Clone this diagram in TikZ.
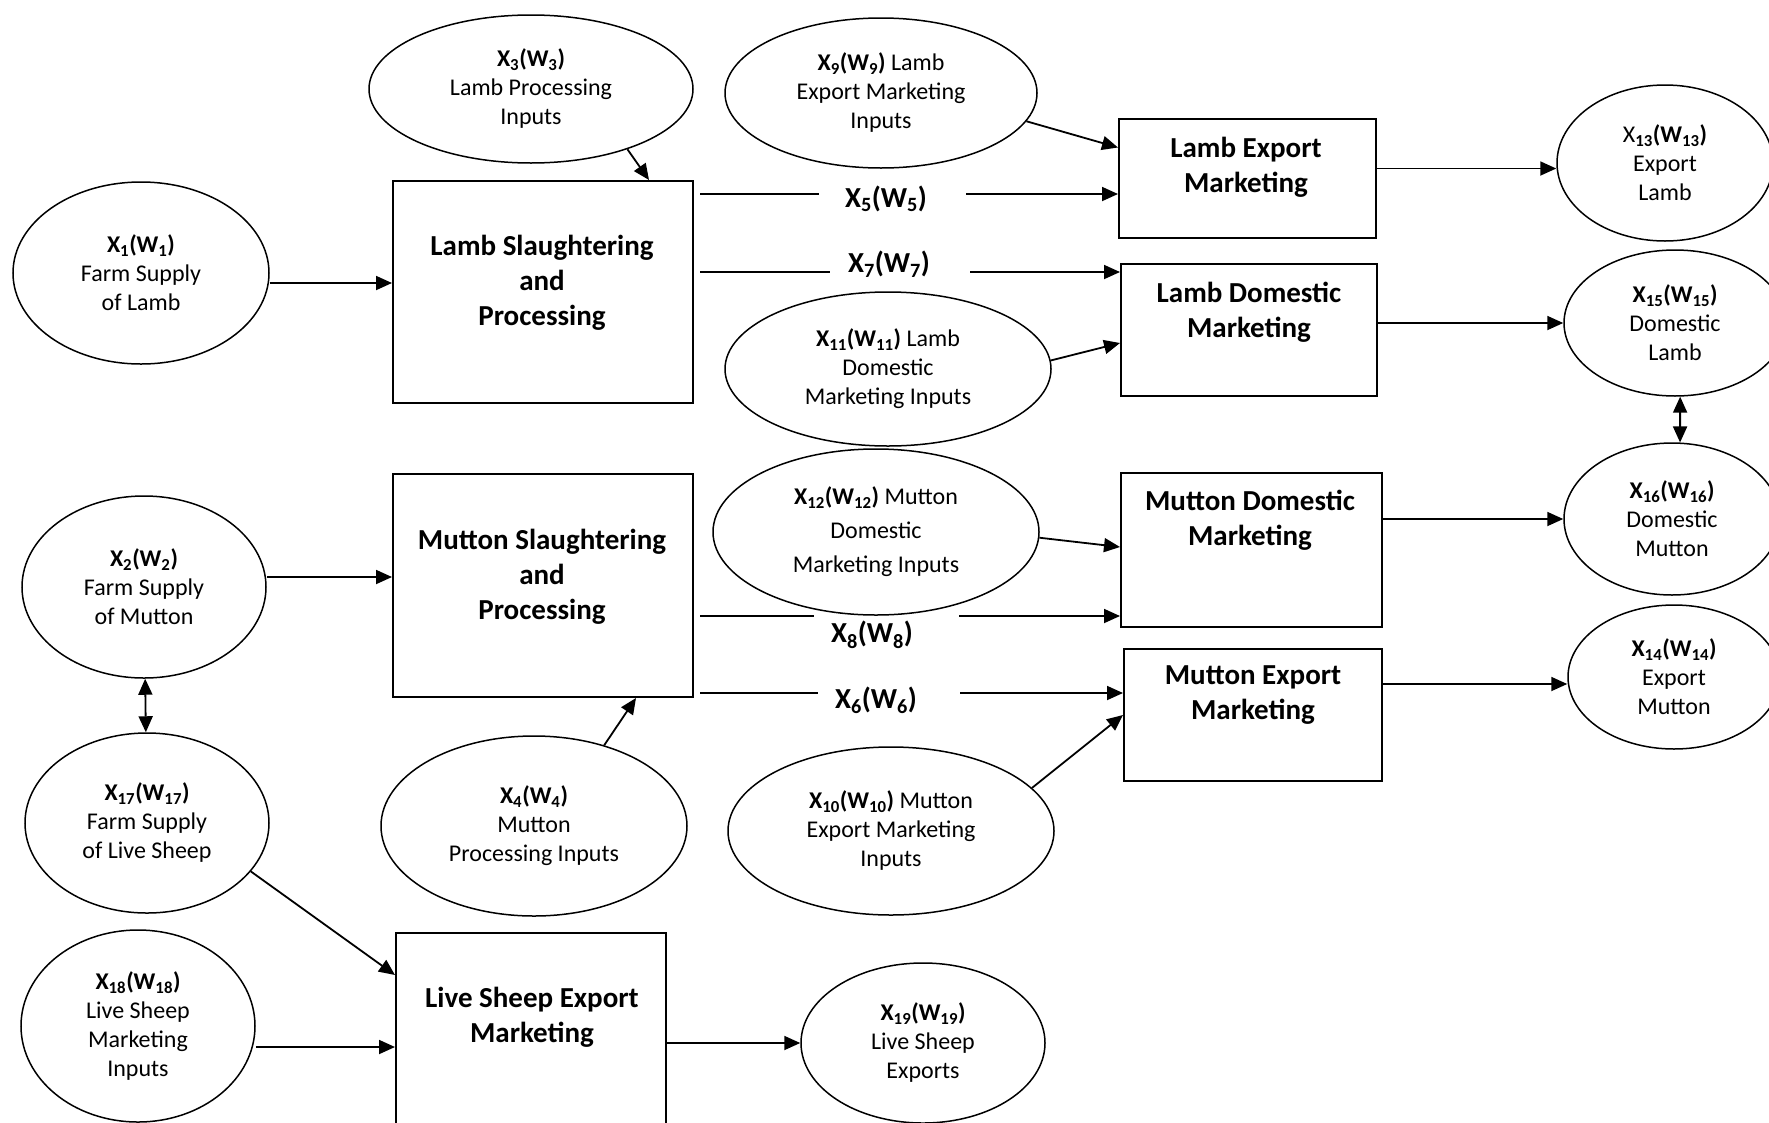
\documentclass[tikz,border=0pt]{standalone}
\usepackage{fontspec}
\setmainfont{Carlito}
\usetikzlibrary{positioning,shapes.geometric,arrows.meta,calc}
\newcommand{\xw}[1]{\textbf{X\textsubscript{#1}(W\textsubscript{#1})}}

\begin{document}
\begin{tikzpicture}[x=1pt, y=-1pt,
    quantity/.style={draw, ellipse, line width=1.5pt, inner sep=0pt, align=center, font=\fontsize{24}{29}\selectfont},
    sector/.style={draw, rectangle, line width=2pt, inner sep=0pt},
    sectortext/.style={align=center, font=\fontsize{29}{35}\selectfont\bfseries},
    flowlabel/.style={inner xsep=30pt, inner ysep=0pt, font=\fontsize{29}{35}\selectfont\bfseries},
    flowline/.style={line width=1.8pt},
    arr/.style={flowline, -{Triangle[length=16pt,width=14pt]}},
    twoway/.style={flowline, {Triangle[length=16pt,width=14pt]}-{Triangle[length=16pt,width=14pt]}}
]
\path[use as bounding box, clip] (0,0) rectangle (1769,1122);
\fill[white] (0,0) rectangle (1769,1122);

% lamb side
\node[quantity, minimum width=256, minimum height=182] (x1) at (141,273) {\xw{1}\\Farm Supply\\of Lamb};
\node[quantity, minimum width=324, minimum height=148] (x3) at (531,89) {\xw{3}\\Lamb Processing\\Inputs};
\node[quantity, minimum width=312, minimum height=150] (x9) at (881,93) {\xw{9} Lamb\\Export Marketing\\Inputs};
\node[quantity, minimum width=326, minimum height=154] (x11) at (888,369) {\xw{11} Lamb\\Domestic\\Marketing Inputs};
\node[quantity, minimum width=216, minimum height=156] (x13) at (1665,163) {X\textbf{\textsubscript{13}(W\textsubscript{13})}\\Export\\Lamb};
\node[quantity, minimum width=222, minimum height=146] (x15) at (1675,323) {\xw{15}\\Domestic\\Lamb};

\node[sector, minimum width=300, minimum height=222] (lsp) at (543,292) {};
\node[sectortext] (lsp-t) at (542,283) {Lamb Slaughtering\\and\\Processing};
\node[sector, minimum width=257, minimum height=119] (lex) at (1247.5,178.5) {};
\node[sectortext] (lex-t) at (1246,167) {Lamb Export\\Marketing};
\node[sector, minimum width=256, minimum height=132] (ldm) at (1249,330) {};
\node[sectortext] (ldm-t) at (1249,312) {Lamb Domestic\\Marketing};

% mutton side
\node[quantity, minimum width=244, minimum height=182] (x2) at (144,587) {\xw{2}\\Farm Supply\\of Mutton};
\node[quantity, minimum width=306, minimum height=180] (x4) at (534,826) {\xw{4}\\Mutton\\Processing Inputs};
\node[quantity, minimum width=326, minimum height=166] (x12) at (876,532) {\xw{12} Mutton\\[5pt]Domestic\\[5pt]Marketing Inputs};
\node[quantity, minimum width=326, minimum height=168] (x10) at (891,831) {\xw{10} Mutton\\Export Marketing\\Inputs};
\node[quantity, minimum width=216, minimum height=152] (x16) at (1672,519) {\xw{16}\\Domestic\\Mutton};
\node[quantity, minimum width=212, minimum height=144] (x14) at (1674,677) {\xw{14}\\Export\\Mutton};

\node[sector, minimum width=300, minimum height=223] (msp) at (543,585.5) {};
\node[sectortext] (msp-t) at (542,577) {Mutton Slaughtering\\and\\Processing};
\node[sector, minimum width=261, minimum height=154] (mdm) at (1251.5,550) {};
\node[sectortext] (mdm-t) at (1250,520) {Mutton Domestic\\Marketing};
\node[sector, minimum width=258, minimum height=132] (mex) at (1253,715) {};
\node[sectortext] (mex-t) at (1253,695) {Mutton Export\\Marketing};

% live sheep
\node[quantity, minimum width=244, minimum height=180] (x17) at (147,823) {\xw{17}\\Farm Supply\\of Live Sheep};
\node[quantity, minimum width=234, minimum height=192] (x18) at (138,1026) {\xw{18}\\Live Sheep\\Marketing\\Inputs};
\node[quantity, minimum width=244, minimum height=160] (x19) at (923,1043) {\xw{19}\\Live Sheep\\Exports};
\node[sector, minimum width=270, minimum height=228] (lse) at (531,1047) {};
\node[sectortext] (lse-t) at (532,1017) {Live Sheep Export\\Marketing};

% flow labels
\node[flowlabel] (x5) at (886,199) {X\textsubscript{5}(W\textsubscript{5})};
\node[flowlabel] (x7) at (889,264) {X\textsubscript{7}(W\textsubscript{7})};
\node[flowlabel] (x8) at (872,635) {X\textsubscript{8}(W\textsubscript{8})};
\node[flowlabel] (x6) at (876,700) {X\textsubscript{6}(W\textsubscript{6})};

% connectors
\draw[arr] ($(x1.east)+(0,10)$) -- ($(x1.east -| lsp.west)+(0,10)$);
\draw[arr] (x3.-32) -- ($(lsp.north)+(106,0)$);
\draw[arr] (x9.-11) -- ($(lex.west)+(0,-31)$);
\draw[arr] (x11.3) -- ($(ldm.west)+(0,13)$);
\draw[arr] ($(lex.east)+(0,-10)$) -- ($(lex.east -| x13.west)+(0,-10)$);
\draw[arr] (x15 -| ldm.east) -- (x15);
\draw[twoway] (x15.-86) -- (x16.84);

\draw[flowline] ($(lsp.east |- x5)+(6,-5)$) -- ($(x5.west)+(4,-5)$);
\draw[arr] ($(x5.east)+(9,-5)$) -- ($(x5.east -| lex.west)+(0,-5)$);
\draw[flowline] ($(lsp.east |- x7)+(6,8)$) -- ($(x7.west)+(12,8)$);
\draw[arr] ($(x7.east)+(10,8)$) -- ($(x7.east -| ldm.west)+(0,8)$);

\draw[arr] ($(x2.east)+(0,-10)$) -- ($(x2.east -| msp.west)+(0,-10)$);
\draw[twoway] (x2) -- (x17);
\draw[arr] (x4.49) -- ($(msp.south)+(93,0)$);
\draw[arr] (x12.-2) -- ($(mdm.west)+(0,-3)$);
\draw[arr] (x10.17) -- (mex.west);
\draw[arr] (x16 -| mdm.east) -- (x16);
\draw[arr] ($(x14.west -| mex.east)+(0,7)$) -- ($(x14.west)+(0,7)$);

\draw[flowline] ($(msp.east |- x8)+(6,-19)$) -- ($(x8.west)+(13,-19)$);
\draw[arr] ($(x8.east)+(16,-19)$) -- ($(x8.east -| mdm.west)+(0,-19)$);
\draw[flowline] ($(msp.east |- x6)+(6,-7)$) -- ($(x6.west)+(13,-7)$);
\draw[arr] ($(x6.east)+(13,-7)$) -- ($(x6.east -| mex.west)+(0,-7)$);

\draw[arr] (x17.-25) -- ($(lse.north west)+(0,43)$);
\draw[arr] ($(x18.east)+(0,21)$) -- ($(x18.east -| lse.west)+(0,21)$);
\draw[arr] (x19 -| lse.east) -- (x19);
\end{tikzpicture}
\end{document}
